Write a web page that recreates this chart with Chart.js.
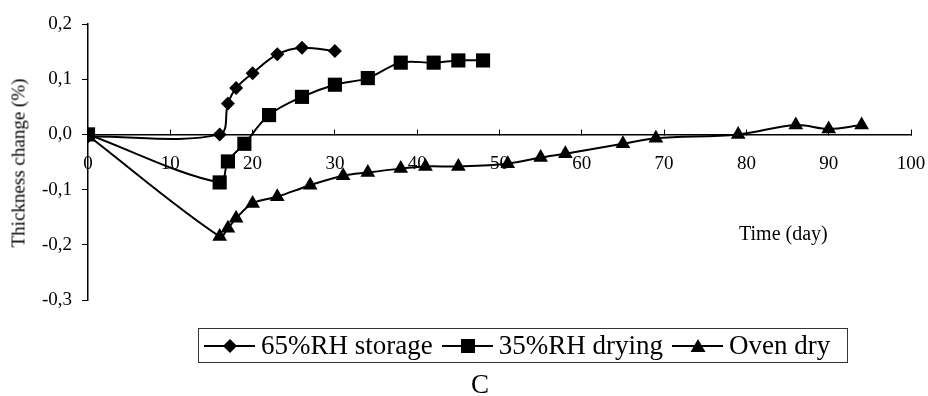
<!DOCTYPE html>
<html>
<head>
<meta charset="utf-8">
<script src="https://cdn.jsdelivr.net/npm/chart.js@4"></script>
<style>
  body { margin: 0; background: #fff; }
  #wrap { position: relative; width: 928px; height: 396px; font-family: "Liberation Serif", "Times New Roman", serif; color: #000; }
  canvas { position: absolute; left: 0; top: 0; }
  .lbl { position: absolute; white-space: nowrap; line-height: 1; }
  #yTitle { font-size: 19px; left: 18px; top: 163px; transform: translate(-50%, -50%) rotate(-90deg); }
  #xTitle { font-size: 20px; left: 739px; top: 223px; }
  #panel { font-size: 27px; left: 480px; top: 371px; transform: translateX(-50%); }
  #legend { position: absolute; left: 198px; top: 328px; width: 643px; height: 33px; border: 1.5px solid #333; display: flex; align-items: center; font-size: 27px; padding: 0 0 0 5px; line-height: 1; }
  #legend .item { display: flex; align-items: center; margin-right: 9px; }
  #legend svg { margin-right: 6px; }
</style>
</head>
<body>
<div id="wrap">
  <canvas id="chart" width="928" height="396"></canvas>
  <div class="lbl" id="yTitle">Thickness change (%)</div>
  <div class="lbl" id="xTitle">Time (day)</div>
  <div class="lbl" id="panel">C</div>
  <div id="legend"></div>
</div>
<script>
// 65%RH storage
const storageDays = [0, 16, 17, 18, 20, 23, 26, 30];
const storageVals = [-0.004, 0, 0.056, 0.084, 0.111, 0.145, 0.157, 0.151];

// 35%RH drying
const dryingDays = [0, 16, 17, 19, 22, 26, 30, 34, 38, 42, 45, 48];
const dryingVals = [0, -0.087, -0.049, -0.017, 0.035, 0.068, 0.09, 0.102, 0.13, 0.13, 0.134, 0.134];

// Oven dry
const ovenDays = [0, 16, 17, 18, 20, 23, 27, 31, 34, 38, 41, 45, 51, 55, 58, 65, 69, 79, 86, 90, 94];
const ovenVals = [-0.002, -0.185, -0.17, -0.152, -0.125, -0.113, -0.092, -0.075, -0.069, -0.062, -0.058, -0.058, -0.053, -0.042, -0.035, -0.017, -0.007, 0, 0.017, 0.01, 0.017];

const seriesNames = ['65%RH storage', '35%RH drying', 'Oven dry'];
const yTickLabels = ['-0,3', '-0,2', '-0,1', '0,0', '0,1', '0,2'];
const xTickLabels = ['0', '10', '20', '30', '40', '50', '60', '70', '80', '90', '100'];

function toPoints(days, vals) {
    return days.map((d, i) => ({ x: d, y: vals[i] }));
}

function makeSet(name, days, vals, style, radius, order) {
    return {
        label: name,
        data: toPoints(days, vals),
        showLine: true,
        borderColor: '#000',
        backgroundColor: '#000',
        borderWidth: 2,
        tension: 0.35,
        pointStyle: style,
        pointRadius: radius,
        pointHoverRadius: radius,
        pointBorderWidth: 0,
        order: order
    };
}

const ctx = document.getElementById('chart').getContext('2d');
new Chart(ctx, {
    type: 'scatter',
    data: {
        datasets: [
            makeSet(seriesNames[0], storageDays, storageVals, 'rectRot', 7, 2),
            makeSet(seriesNames[1], dryingDays, dryingVals, 'rect', 10, 1),
            makeSet(seriesNames[2], ovenDays, ovenVals, 'triangle', 8.5, 3)
        ]
    },
    options: {
        responsive: false,
        animation: false,
        devicePixelRatio: 1,
        layout: { padding: { left: 0, right: 17, top: 24, bottom: 96 } },
        plugins: { legend: { display: false }, tooltip: { enabled: false } },
        scales: {
            x: {
                type: 'linear',
                min: 0,
                max: 100,
                position: { y: 0 },
                // labels sit far below the axis, don't let that eat the plot width
                afterFit: s => { s.paddingLeft = 0; s.paddingRight = 0; },
                grid: { drawOnChartArea: false, tickLength: -6, color: '#000', lineWidth: 1 },
                border: { color: '#000', width: 1.5 },
                ticks: {
                    stepSize: 10,
                    padding: 24,
                    color: '#000',
                    font: { family: 'Liberation Serif', size: 19 },
                    maxRotation: 0,
                    callback: (v, i) => xTickLabels[i]
                }
            },
            y: {
                min: -0.3,
                max: 0.2,
                position: 'left',
                afterFit: s => { s.width = 88; },
                grid: { drawOnChartArea: false, tickLength: 6, color: '#000', lineWidth: 1 },
                border: { color: '#000', width: 1.5 },
                ticks: {
                    stepSize: 0.1,
                    padding: 10,
                    color: '#000',
                    font: { family: 'Liberation Serif', size: 19 },
                    callback: (v, i) => yTickLabels[i]
                }
            }
        }
    }
});

// legend: line with marker, like the original
const markers = {
    rectRot: '<polygon points="26,3 33,10 26,17 19,10" fill="#000"/>',
    rect: '<rect x="19" y="3" width="14" height="14" fill="#000"/>',
    triangle: '<polygon points="26,3 33.5,16 18.5,16" fill="#000"/>'
};
const legendStyles = ['rectRot', 'rect', 'triangle'];
const legend = document.getElementById('legend');
seriesNames.forEach((name, i) => {
    const item = document.createElement('div');
    item.className = 'item';
    item.innerHTML = '<svg width="51" height="20"><line x1="0" y1="10" x2="51" y2="10" stroke="#000" stroke-width="2"/>' +
        markers[legendStyles[i]] + '</svg><span>' + name + '</span>';
    legend.appendChild(item);
});
</script>
</body>
</html>
